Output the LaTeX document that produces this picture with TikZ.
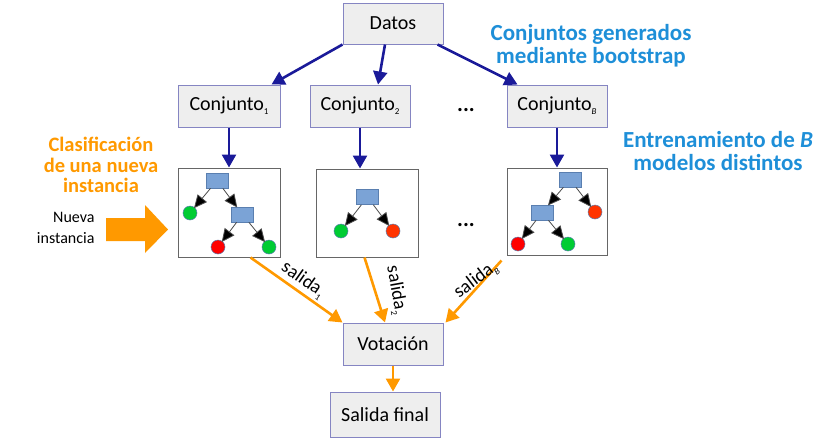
\documentclass[tikz,border=0pt]{standalone}
\usepackage{fontspec}
\setmainfont{Carlito}
\usetikzlibrary{arrows.meta,calc}
\definecolor{boxborder}{HTML}{8585C2}
\definecolor{boxfill}{HTML}{EEEEEE}
\definecolor{navyarrow}{HTML}{1A1A99}
\definecolor{orangec}{HTML}{FF9900}
\definecolor{bluetxt}{HTML}{1E8FD8}
\definecolor{rectblue}{HTML}{7BA3D6}
\definecolor{rectborder}{HTML}{5A7FB0}
\definecolor{leafgreen}{HTML}{00CC33}
\definecolor{leafred}{HTML}{FF0000}
\definecolor{leaforange}{HTML}{FF3300}
\newcommand{\lowsub}[1]{\raisebox{-4pt}{\fontsize{9}{9}\selectfont #1}}
\tikzset{
  gbox/.style={draw=boxborder, fill=boxfill, line width=1pt, inner sep=0pt, font=\fontsize{20}{22}\selectfont},
  treebox/.style={draw=gray!80!black, fill=white, line width=1pt, inner sep=0pt},
  navyarr/.style={draw=navyarrow, line width=2.6pt, -{Triangle[length=13pt,width=14pt]}},
  orarr/.style={draw=orangec, line width=2.6pt, -{Triangle[length=13pt,width=14pt]}},
  trect/.style={draw=rectborder, fill=rectblue, line width=0.6pt, minimum width=22pt, minimum height=15pt, inner sep=0pt},
  leaf/.style={circle, draw=rectborder, line width=0.5pt, minimum size=14pt, inner sep=0pt},
  tarr/.style={draw=gray!60!black, line width=0.8pt, -{Triangle[length=13pt,width=12pt,fill=black]}, shorten >=-1pt},
  labtxt/.style={font=\fontsize{19}{20}\selectfont, inner sep=0pt},
  dotstxt/.style={font=\fontsize{22}{22}\selectfont\bfseries, anchor=base, inner sep=0pt},
  bluebold/.style={text=bluetxt, font=\fontsize{23}{23}\selectfont\bfseries, align=center},
  orbold/.style={text=orangec, font=\fontsize{20.5}{20.5}\selectfont\bfseries, align=center}
}
\begin{document}
\begin{tikzpicture}[x=1pt,y=-1pt]
\useasboundingbox (0,0) rectangle (828,445);
% main boxes
\node[gbox, minimum width=100pt, minimum height=41pt] (datos) at (393,23.5) {Datos};
\node[gbox, minimum width=102pt, minimum height=42pt] (c1) at (229,106) {Conjunto\lowsub{1}};
\node[gbox, minimum width=100pt, minimum height=42pt] (c2) at (360,106) {Conjunto\lowsub{2}};
\node[gbox, minimum width=100pt, minimum height=42pt] (cB) at (557,106) {Conjunto\lowsub{\textit{B}}};
\node[dotstxt] (dots1) at (466,111) {...};
\node[gbox, minimum width=100pt, minimum height=42pt] (vot) at (393,344) {Votación};
\node[gbox, minimum width=110pt, minimum height=45pt] (final) at (385,414.5) {Salida final};
% tree boxes
\node[treebox, minimum width=102pt, minimum height=89pt] (t1) at (229,212.5) {};
\node[treebox, minimum width=102pt, minimum height=88pt] (t2) at (367,213) {};
\node[treebox, minimum width=100pt, minimum height=87pt] (t3) at (557,211.5) {};
\node[dotstxt] (dots2) at (466,226) {...};
% tree 1
\node[trect] (a1) at (217,180.5) {};
\node[leaf, fill=leafgreen] (a2) at (190,213) {};
\node[trect] (a3) at (242.5,214.5) {};
\node[leaf, fill=leafred] (a4) at (218,247) {};
\node[leaf, fill=leafgreen] (a5) at (269,247) {};
\draw[tarr] (a1) -- (a2);
\draw[tarr] (a1) -- (a3);
\draw[tarr] (a3) -- (a4);
\draw[tarr] (a3) -- (a5);
% tree 2
\node[trect] (b1) at (367.5,197) {};
\node[leaf, fill=leafgreen] (b2) at (341,231) {};
\node[leaf, fill=leaforange] (b3) at (393,231) {};
\draw[tarr] (b1) -- (b2);
\draw[tarr] (b1) -- (b3);
% tree 3
\node[trect] (d1) at (570,179.5) {};
\node[trect] (d2) at (542,212.5) {};
\node[leaf, fill=leaforange] (d3) at (595,212) {};
\node[leaf, fill=leafred] (d4) at (518,244) {};
\node[leaf, fill=leafgreen] (d5) at (568,244) {};
\draw[tarr] (d1) -- (d2);
\draw[tarr] (d1) -- (d3);
\draw[tarr] (d2) -- (d4);
\draw[tarr] (d2) -- (d5);
% navy arrows
\draw[navyarr] (datos.south west) -- ($(c1.north east)+(-9,0)$);
\draw[navyarr] ($(datos.south)+(-8,0)$) -- ($(c2.north)+(18,0)$);
\draw[navyarr] ($(datos.south east)+(-6,0)$) -- ($(cB.north west)+(11,0)$);
\draw[navyarr] (c1.south) -- (t1.north);
\draw[navyarr] (c2.south) -- ($(t2.north)+(-7,0)$);
\draw[navyarr] (cB.south) -- (t3.north);
% orange arrows
\draw[orarr] ($(t1.south east)+(-30,0)$) -- (vot.north west);
\draw[orarr] ($(t2.south west)+(49,0)$) -- ($(vot.north)+(-8,0)$);
\draw[orarr] ($(t3.south west)+(-5,5)$) -- ($(vot.north east)+(2,0)$);
\draw[orarr] (vot.south) -- (final.north -| vot.south);
% labels on orange arrows
\node[labtxt, rotate=-35] (s1) at (303,280) {salida\lowsub{1}};
\node[labtxt, rotate=-80] (s2) at (396,290) {salida\lowsub{2}};
\node[labtxt, rotate=37] (sB) at (476,280) {salida\lowsub{\textit{B}}};
% side texts
\node[bluebold] (bt1) at (591,46) {Conjuntos generados\\mediante bootstrap};
\node[bluebold] (bt2) at (718,151) {Entrenamiento de \textit{B}\\modelos distintos};
\node[orbold] (ot) at (101,165) {Clasificación\\de una nueva\\instancia};
\node[font=\fontsize{16}{21}\selectfont, align=right, anchor=east] (nueva) at (98,228) {Nueva\\instancia};
% block arrow
\fill[orangec] (106,218) -- (145,218) -- (145,205) -- (168,229.5) -- (145,253) -- (145,241) -- (106,241) -- cycle;
\end{tikzpicture}
\end{document}
